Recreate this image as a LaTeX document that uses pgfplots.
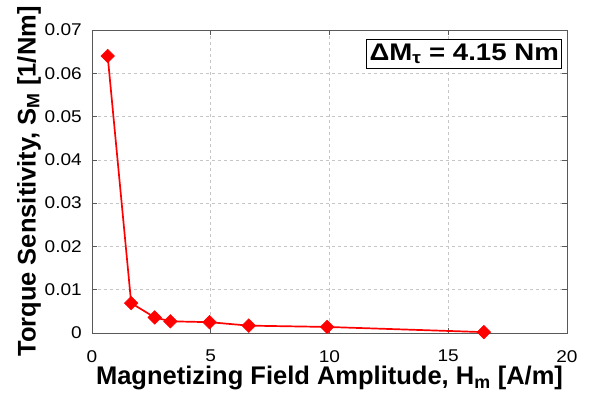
\documentclass[border=0pt]{standalone}
\usepackage{pgfplots}
\pgfplotsset{compat=1.18}
\usepackage{fontspec}
\setmainfont{Liberation Sans}
\newfontfamily\tickfont[FakeStretch=1.12]{Liberation Sans}
\newfontfamily\boxfont[FakeStretch=1.15]{Liberation Sans}
\begin{document}
\begin{tikzpicture}
\useasboundingbox (-92pt,-68pt) rectangle (498pt,333pt);
\begin{axis}[
  at={(0,0)}, anchor=south west,
  scale only axis, width=475pt, height=303pt,
  xmin=0, xmax=20, ymin=0, ymax=0.07,
  xtick={0,5,10,15,20}, ytick={0,0.01,...,0.07},
  yticklabel style={/pgf/number format/fixed, /pgf/number format/precision=2, inner sep=0pt, xshift=-10pt},
  xticklabel style={inner sep=0pt, yshift=-17pt, anchor=north},
  scaled y ticks=false,
  /pgf/number format/assume math mode=true,
  tick label style={font=\tickfont\fontsize{17}{17}\selectfont},
  grid=major,
  grid style={dashed, gray!45, line width=0.5pt},
  axis line style={gray!70!black, line width=0.8pt},
  tick style={gray!70!black, line width=0.6pt},
  tick align=inside,
  major tick length=5pt,
  xlabel={\bfseries Magnetizing Field Amplitude, H\textsubscript{m} [A/m]},
  ylabel={\bfseries Torque Sensitivity, S\textsubscript{M} [1/Nm]},
  label style={font=\fontsize{25.5}{25.5}\selectfont, inner sep=0pt},
  xlabel style={at={(axis description cs:0.5,-0.1716)}, anchor=base},
  ylabel style={at={(axis description cs:-0.158,0.5)}, anchor=north},
]
\addplot[red, line width=1.7pt, mark=square*, mark size=4.8pt, mark options={fill=red, draw=red, line width=0.5pt, rotate=45}]
coordinates {
(0.66,0.0640) (1.65,0.0069) (2.64,0.0036) (3.3,0.0027) (4.95,0.0025) (6.6,0.0017) (9.9,0.0014) (16.5,0.0002)
};
\node[draw=black, line width=0.8pt, fill=white, anchor=north east, inner xsep=3pt, inner ysep=4pt, font=\boxfont\fontsize{24}{24}\selectfont\bfseries]
  at (rel axis cs:0.99,0.97) {ΔM\textsubscript{τ} = 4.15 Nm};
\end{axis}
\end{tikzpicture}
\end{document}
